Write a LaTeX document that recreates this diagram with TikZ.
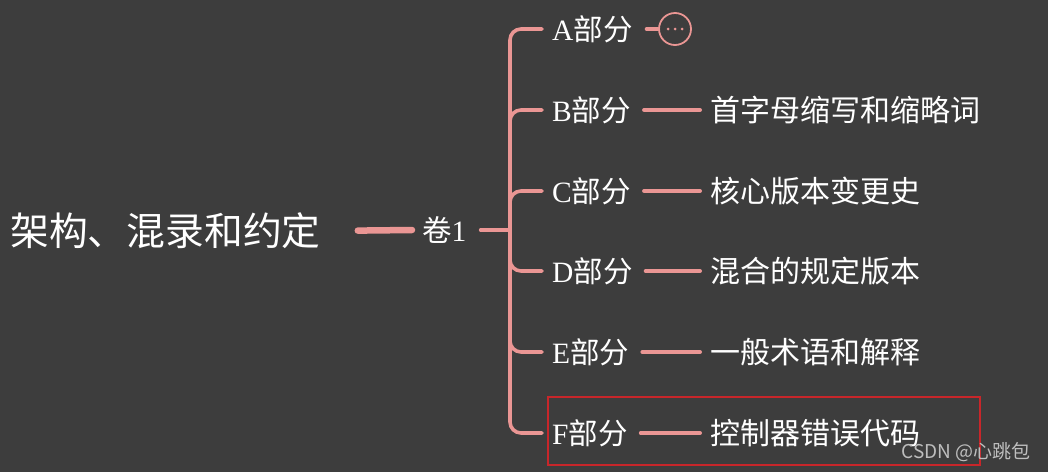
\documentclass[tikz,border=0pt]{standalone}
\usepackage{fontspec}
\setmainfont{Liberation Serif}
\newfontfamily\cjk{Noto Sans CJK SC}
\usetikzlibrary{calc}
\definecolor{bgc}{RGB}{61,61,61}
\definecolor{pinkline}{RGB}{234,150,148}
\definecolor{hlred}{RGB}{200,38,42}
\definecolor{wmgray}{RGB}{190,190,190}
\begin{document}
\begin{tikzpicture}[x=1pt,y=-1pt,
  conn/.style={draw=pinkline, line width=4pt, line cap=round},
  trunk/.style={draw=pinkline, line width=3.6pt, line cap=round, rounded corners=11pt},
  rootconn/.style={draw=pinkline, line width=6.5pt, line cap=round},
  roottext/.style={text=white, inner sep=0pt, font=\cjk\fontsize{38.8}{44}\selectfont},
  voltext/.style={text=white, inner xsep=10pt, inner ysep=2pt, font=\fontsize{29.5}{34}\selectfont},
  parttext/.style={text=white, inner xsep=10pt, inner ysep=2pt, font=\fontsize{29.5}{34}\selectfont},
  leaftext/.style={text=white, inner xsep=10pt, inner ysep=2pt, font=\cjk\fontsize{30}{34}\selectfont},
  morecirc/.style={circle, draw=pinkline, line width=1.8pt, minimum size=32pt, inner sep=0pt},
  redbox/.style={draw=hlred, line width=1.8pt},
  wm/.style={text=wmgray, inner sep=0pt, font=\cjk\fontsize{19}{22}\selectfont}]
\fill[bgc] (0,0) rectangle (1048,472);
\useasboundingbox (0,0) rectangle (1048,472);

\node[roottext, anchor=west] (root) at (10,231) {架构、混录和约定};
\node[voltext, anchor=west] (vol) at (412,230) {{\cjk 卷}1};
\draw[rootconn, shorten <=37pt] (root.east) -- (vol.west);
\coordinate (j) at (510,230);
\draw[trunk] (vol.east) ++(4,0) -- (j);

\foreach \n/\l/\y in {pA/A/29, pB/B/110, pC/C/191, pD/D/271, pE/E/352, pF/F/433}{
  \node[parttext, anchor=west] (\n) at (542,\y) {\l{\cjk 部分}};
  \draw[trunk] (j) |- (\n.west);
}

\node[morecirc] (more) at (675,29) {};
\draw[conn, shorten <=4pt] (pA.east) -- (more.west);
\foreach \dx in {-7,0,7}
  \fill[pinkline] ($(more.center)+(\dx,0)$) circle (1.5);

\node[leaftext, anchor=west] (lB) at (700,110) {首字母缩写和缩略词};
\node[leaftext, anchor=west] (lC) at (700,191) {核心版本变更史};
\node[leaftext, anchor=west] (lD) at (700,271) {混合的规定版本};
\node[leaftext, anchor=west] (lE) at (700,352) {一般术语和解释};
\node[leaftext, anchor=west] (lF) at (700,433) {控制器错误代码};
\foreach \p/\l in {pB/lB, pC/lC, pD/lD, pE/lE, pF/lF}
  \draw[conn, shorten <=3pt] (\p.east) -- (\l.west);

\draw[redbox] (548,397) rectangle (980,465);
\node[wm] (wmk) at (966,452) {CSDN @心跳包};
\end{tikzpicture}
\end{document}
